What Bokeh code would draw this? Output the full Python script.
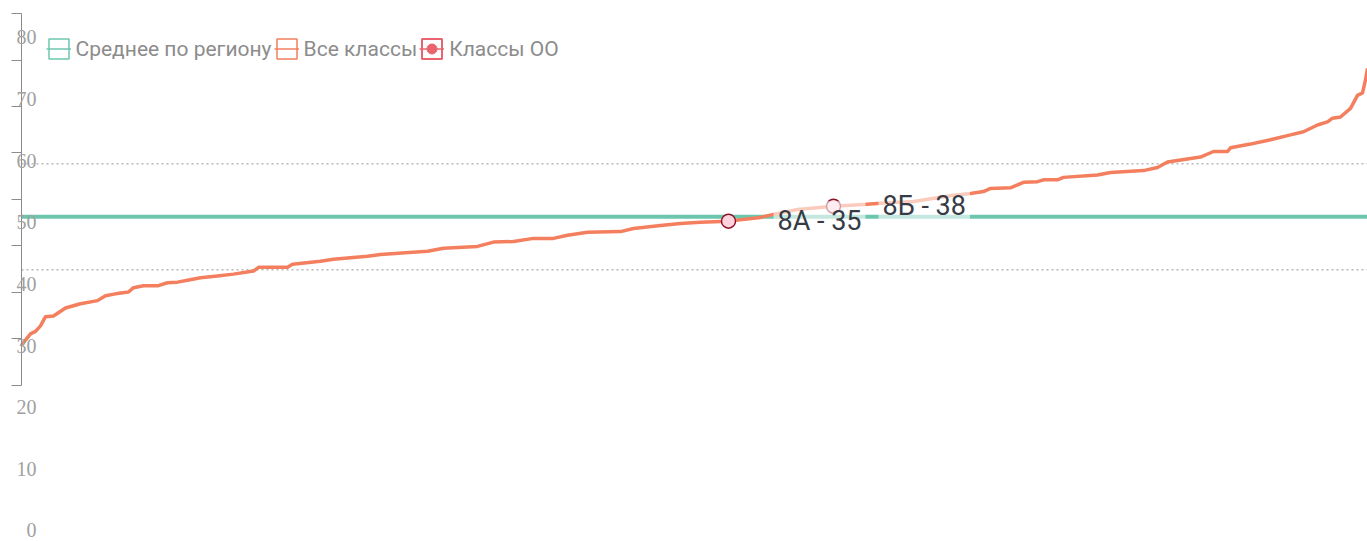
from bokeh.plotting import figure
from bokeh.models import (Label, LinearAxis, Range1d, FixedTicker, Legend, LegendItem)
from bokeh.embed import file_html
from bokeh.resources import INLINE

# ---- data ----
ranks = [0, 1, 9, 14, 19, 24, 32, 44, 59, 76, 84, 94, 107, 112, 122, 136, 146, 156,
         166, 179, 196, 212, 232, 237, 266, 271, 299, 312, 346, 359, 406, 422, 456,
         472, 492, 512, 532, 546, 566, 599, 612, 639, 659, 679, 707, 739, 752, 776,
         812, 842, 859, 892, 932, 949, 962, 969, 989, 1002, 1016, 1022, 1036, 1042,
         1076, 1089, 1122, 1136, 1146, 1179, 1192, 1206, 1209, 1229, 1249, 1269,
         1282, 1296, 1306, 1311, 1319, 1329, 1336, 1341, 1344, 1346]
values = [30.0, 30.3, 31.9, 32.3, 33.2, 34.7, 34.8, 36.1, 36.8, 37.3, 38.1, 38.4,
          38.7, 39.4, 39.7, 39.7, 40.2, 40.3, 40.6, 41.0, 41.3, 41.6, 42.1, 42.7,
          42.7, 43.2, 43.7, 44.0, 44.5, 44.8, 45.3, 45.8, 46.1, 46.8, 46.9, 47.4,
          47.4, 47.9, 48.4, 48.5, 49.0, 49.5, 49.8, 50.0, 50.2, 50.8, 51.3, 52.1,
          52.6, 52.9, 53.1, 53.4, 54.4, 54.7, 55.0, 55.5, 55.6, 56.5, 56.6, 56.9,
          56.9, 57.3, 57.7, 58.1, 58.4, 58.9, 59.8, 60.6, 61.5, 61.5, 62.1, 62.7,
          63.4, 64.2, 64.7, 65.8, 66.3, 66.9, 67.1, 68.5, 70.6, 71.0, 73.1, 75.0]
region_avg = 50.9
band_low = 42.3
band_high = 59.5
oo_classes = ["8А", "8Б"]
oo_ranks = [707, 812]
oo_values = [50.2, 52.6]
oo_scores = [35, 38]
y_tick_values = [0, 10, 20, 30, 40, 50, 60, 70, 80]
y_tick_labels = ["0", "10", "20", "30", "40", "50", "60", "70", "80"]
axis_ticks = [0, 1, 2, 3, 4, 5, 6, 7, 8]
legend_labels = ["Среднее по региону", "Все классы", "Классы ОО"]

GREEN = "#6cc6ae"
ORANGE = "#f47f5e"
RED = "#e9646f"
GREY_TXT = "#8c8c8c"

p = figure(width=1367, height=541,
           x_range=Range1d(ranks[0] - 21, ranks[-1]),
           y_range=Range1d(-1.785, 86.0),
           output_backend="svg", toolbar_location=None,
           x_axis_location=None, y_axis_location=None,
           min_border_left=0, min_border_right=0, min_border_top=0,
           min_border_bottom=0, outline_line_color=None,
           background_fill_color="white", border_fill_color="white")
p.grid.visible = False

# decorative tick axis (ticks are not aligned with the labels, as in the reference)
p.extra_y_ranges = {"ticks": Range1d(-3.355, 8.2796)}
tick_axis = LinearAxis(y_range_name="ticks", ticker=FixedTicker(ticks=axis_ticks),
                       bounds=(axis_ticks[0], axis_ticks[-1]),
                       fixed_location=ranks[0] - 0.5,
                       major_tick_out=10, major_tick_in=0,
                       minor_tick_line_color=None,
                       major_label_overrides={t: "" for t in axis_ticks},
                       major_label_standoff=0,
                       axis_line_color="#8c8c8c", major_tick_line_color="#8c8c8c",
                       axis_line_width=1, major_tick_line_width=1)
p.add_layout(tick_axis, "left")

# value labels (serif)
label_axis = LinearAxis(ticker=FixedTicker(ticks=y_tick_values),
                        major_label_overrides=dict(zip(y_tick_values, y_tick_labels)),
                        fixed_location=ranks[0] + 15,
                        major_tick_out=0, major_tick_in=0, major_label_standoff=0,
                        minor_tick_line_color=None, axis_line_color=None,
                        major_tick_line_color=None,
                        major_label_text_font="Liberation Serif",
                        major_label_text_font_size="20px",
                        major_label_text_color="#a0a0a0")
p.add_layout(label_axis, "left")

# dotted band lines
for loc in (band_high, band_low):
    p.line(x=[ranks[0], ranks[-1]], y=[loc, loc], line_color="#b8b8b8",
           line_dash="2 3", line_width=1.5)

# region average
p.line(x=[ranks[0], ranks[-1]], y=[region_avg, region_avg],
       line_color=GREEN, line_width=4)
# all classes
p.line(ranks, values, line_color=ORANGE, line_width=3.5, line_join="round")
# school classes
p.scatter(oo_ranks, oo_values, size=14, fill_color="#ffd3de",
          line_color="#8b1428", line_width=1.5)
for c, r, v, s in zip(oo_classes, oo_ranks, oo_values, oo_scores):
    p.add_layout(Label(x=r, y=v, text=f"{c} - {s}", x_offset=45,
                       text_align="left", text_baseline="middle",
                       text_font="Roboto", text_font_size="27px",
                       text_color="#363b45",
                       background_fill_color="white", background_fill_alpha=0.6,
                       padding=4))

# legend proxies
def proxy_box(color, w=1.5):
    return p.rect(x=ranks[:1], y=[region_avg], width=0, height=0,
                  fill_color=None, line_color=color, line_width=w, visible=False)

def proxy_line(color):
    return p.line(x=ranks[:2], y=[region_avg, region_avg], line_color=color,
                  line_width=1.5, visible=False)

gb, gl = proxy_box(GREEN), proxy_line(GREEN)
ob, ol = proxy_box(ORANGE), proxy_line(ORANGE)
rb, rl = proxy_box(RED, 2), proxy_line(RED)
rs = p.scatter(x=oo_ranks[:1], y=oo_values[:1], size=10, fill_color=RED,
               line_color=RED, visible=False)

legend = Legend(items=[LegendItem(label=legend_labels[0], renderers=[gb, gl]),
                       LegendItem(label=legend_labels[1], renderers=[ob, ol]),
                       LegendItem(label=legend_labels[2], renderers=[rb, rl, rs])],
                orientation="horizontal", location=(45.5, 480),
                padding=0, margin=0, spacing=2, glyph_width=25, glyph_height=25,
                label_standoff=5, label_text_font="Roboto",
                label_text_font_size="21px", label_text_color=GREY_TXT,
                background_fill_alpha=0, border_line_color=None)
p.add_layout(legend)

open("out.html", "w").write(file_html(p, INLINE))
